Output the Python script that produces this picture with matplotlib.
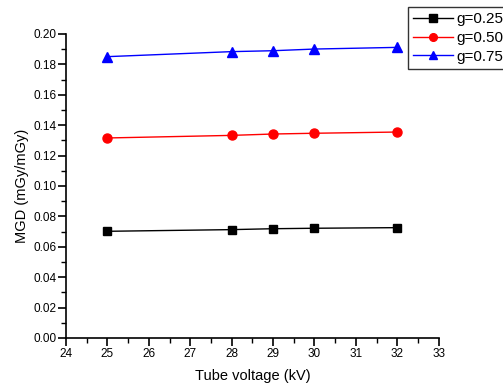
import matplotlib
matplotlib.use("Agg")
import matplotlib.pyplot as plt
from matplotlib.ticker import MultipleLocator

plt.rcParams['font.family'] = ['Liberation Sans', 'DejaVu Sans']

voltage = [25, 28, 29, 30, 32]
g025 = [0.0702, 0.0713, 0.0719, 0.0722, 0.0726]
g050 = [0.1316, 0.1333, 0.1342, 0.1347, 0.1355]
g075 = [0.1851, 0.1884, 0.1890, 0.1901, 0.1912]
labels = ["g=0.25", "g=0.50", "g=0.75"]

fig = plt.figure(figsize=(5.03, 3.87), dpi=100)
ax = fig.add_axes([66/503, 1-338/387, (438.7-66)/503, (338-34)/387])

ax.plot(voltage, g025, color='black', marker='s', markersize=6, linewidth=1, label=labels[0])
ax.plot(voltage, g050, color='red', marker='o', markersize=6.5, linewidth=1, label=labels[1])
ax.plot(voltage, g075, color='blue', marker='^', markersize=7, linewidth=1, label=labels[2])

ax.set_xlim(24, 33)
ax.set_ylim(0, 0.20)
ax.xaxis.set_major_locator(MultipleLocator(1))
ax.xaxis.set_minor_locator(MultipleLocator(0.5))
ax.yaxis.set_major_locator(MultipleLocator(0.02))
ax.yaxis.set_minor_locator(MultipleLocator(0.01))
ax.yaxis.set_major_formatter(plt.FormatStrFormatter('%.2f'))
ax.spines['top'].set_visible(False)
ax.spines['right'].set_visible(False)
for s in ['left', 'bottom']:
    ax.spines[s].set_linewidth(1.2)
ax.tick_params(which='major', direction='out', length=6, width=1.2, labelsize=8.5, pad=1)
ax.tick_params(which='minor', direction='out', length=3.5, width=1.0)

ax.set_xlabel("Tube voltage (kV)", fontsize=10.5, labelpad=7)
ax.set_ylabel("MGD (mGy/mGy)", fontsize=10.5, labelpad=3)

leg = fig.legend(loc='upper left', bbox_to_anchor=(408/503, 1-7/387), frameon=True,
                 fancybox=False, edgecolor='black', fontsize=11, handlelength=2.6,
                 handletextpad=0.2, borderpad=0.35, labelspacing=0.3, borderaxespad=0,
                 markerscale=0.85)
leg.get_frame().set_linewidth(1.0)

fig.savefig("out.png", dpi=100)
